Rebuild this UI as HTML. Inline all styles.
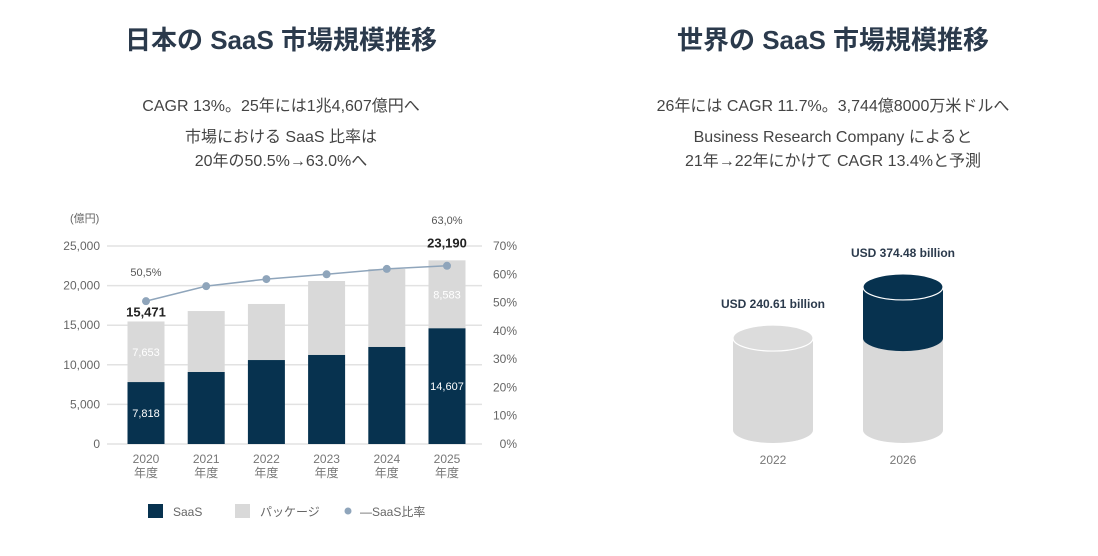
<!DOCTYPE html>
<html><head><meta charset="utf-8">
<style>
body{margin:0;width:1098px;height:551px;background:#fff;font-family:"Liberation Sans","Noto Sans CJK JP",sans-serif;overflow:hidden}
svg text{font-family:"Liberation Sans","Noto Sans CJK JP",sans-serif}
</style></head><body>
<svg id="s" width="1098" height="551">
<text x="281" y="49" text-anchor="middle" font-size="26" font-weight="bold" fill="#2b3a4c">日本の SaaS 市場規模推移</text>
<text x="833" y="49" text-anchor="middle" font-size="26" font-weight="bold" fill="#2b3a4c">世界の SaaS 市場規模推移</text>
<g font-size="16" fill="#444" text-anchor="middle">
<text x="281" y="111">CAGR 13%。25年には1兆4,607億円へ</text>
<text x="281" y="142">市場における SaaS 比率は</text>
<text x="281" y="166">20年の50.5%→63.0%へ</text>
</g>
<g font-size="16" fill="#444" text-anchor="middle">
<text x="833" y="111">26年には CAGR 11.7%。3,744億8000万米ドルへ</text>
<text x="833" y="142">Business Research Company によると</text>
<text x="833" y="166">21年→22年にかけて CAGR 13.4%と予測</text>
</g>
<g id="left"></g>
<g id="right"></g>
</svg>
<script>
const years=["2020","2021","2022","2023","2024","2025"];
const saas=[7818,9090,10600,11240,12250,14607];
const totals=[15471,16790,17680,20580,22100,23190];
const ratio=[50.5,55.8,58.3,60.0,61.9,63.0];
const leftTicks=[0,5000,10000,15000,20000,25000];
const rightTicks=[0,10,20,30,40,50,60,70];
const wYears=["2022","2026"];
const wVals=[240.61,374.48];
const wLabels=["USD 240.61 billion","USD 374.48 billion"];
const NS="http://www.w3.org/2000/svg";
function mk(p,t,a,txt){const e=document.createElementNS(NS,t);for(const k in a)e.setAttribute(k,a[k]);if(txt!=null)e.textContent=txt;p.appendChild(e);return e;}
const L=document.getElementById('left');
const y=v=>444-v*(198/25000);
const yr=p=>444-p*(198/70);
const x=i=>146+i*60.2;
leftTicks.forEach(t=>{
 const g=mk(L,'line',{x1:107,x2:482,y1:y(t),y2:y(t),stroke:'#e2e2e2','stroke-width':1.5});
 
 const tx=mk(L,'text',{x:100,y:y(t)+4,'text-anchor':'end','font-size':12,fill:'#666'},t.toLocaleString('en-US'));
 
});
rightTicks.forEach(t=>{
 const tx=mk(L,'text',{x:517,y:yr(t)+4,'text-anchor':'end','font-size':12,fill:'#666'},t+'%');
 
});
const u=mk(L,'text',{x:70,y:222,'font-size':11,fill:'#666'},'(億円)');

years.forEach((yy,i)=>{
 const b1=mk(L,'rect',{x:x(i)-18.5,y:y(totals[i]),width:37,height:y(saas[i])-y(totals[i]),fill:'#d9d9d9'});
 
 const b2=mk(L,'rect',{x:x(i)-18.5,y:y(saas[i]),width:37,height:444-y(saas[i]),fill:'#07324f'});
 
 const t1=mk(L,'text',{x:x(i),y:463,'text-anchor':'middle','font-size':12,fill:'#777'},yy);
 
 const t2=mk(L,'text',{x:x(i),y:477,'text-anchor':'middle','font-size':12,fill:'#777'},'年度');
 
});
const pts=ratio.map((r,i)=>x(i)+','+yr(r)).join(' ');
const pl=mk(L,'polyline',{points:pts,fill:'none',stroke:'#8fa5bb','stroke-width':1.5});

ratio.forEach((r,i)=>{const c=mk(L,'circle',{cx:x(i),cy:yr(r),r:4,fill:'#8fa5bb'});
 });
const n=ratio.length-1;
const lab=[
 [x(0),y(totals[0])-5,totals[0].toLocaleString('en-US'),'#222','bold','total-label-2020'],
 [x(n),y(totals[n])-13,totals[n].toLocaleString('en-US'),'#222','bold','total-label-2025'],
 [x(0),yr(ratio[0])-25,ratio[0].toFixed(1).replace('.',',')+'%','#555','normal','ratio-label-2020'],
 [x(n),yr(ratio[n])-42,ratio[n].toFixed(1).replace('.',',')+'%','#555','normal','ratio-label-2025'],
 [x(0),(y(totals[0])+y(saas[0]))/2+4,(totals[0]-saas[0]).toLocaleString('en-US'),'#fff','normal','package-label-2020'],
 [x(n),(y(totals[n])+y(saas[n]))/2+4,(totals[n]-saas[n]).toLocaleString('en-US'),'#fff','normal','package-label-2025'],
 [x(0),(444+y(saas[0]))/2+4,saas[0].toLocaleString('en-US'),'#fff','normal','saas-label-2020'],
 [x(n),(444+y(saas[n]))/2+4,saas[n].toLocaleString('en-US'),'#fff','normal','saas-label-2025']];
lab.forEach(a=>{const t=mk(L,'text',{x:a[0],y:a[1],'text-anchor':'middle','font-size':a[4]=='bold'?13:11,'font-weight':a[4],fill:a[3]},a[2]);
 });
// legend
const lg=mk(L,'g',{});
mk(lg,'rect',{x:148,y:504,width:15,height:14,fill:'#07324f'});
mk(lg,'text',{x:173,y:516,'font-size':12,fill:'#666'},'SaaS');
mk(lg,'rect',{x:235,y:504,width:15,height:14,fill:'#d9d9d9'});
mk(lg,'text',{x:260,y:516,'font-size':12,fill:'#666'},'パッケージ');
mk(lg,'circle',{cx:348,cy:511,r:3.5,fill:'#8fa5bb'});
mk(lg,'text',{x:360,y:516,'font-size':12,fill:'#666'},'―SaaS比率');
// world cylinders
const R=document.getElementById('right');
const wx=[773,903],base=430,k=0.382,rx=40,ry=13;
wVals.forEach((v,i)=>{
 const g=mk(R,'g',{});
 const top=base-v*k,cx=wx[i];
 mk(g,'path',{d:`M${cx-rx},${top} L${cx-rx},${base} A${rx},${ry} 0 0 0 ${cx+rx},${base} L${cx+rx},${top} Z`,fill:'#d9d9d9'});
 if(i>0){const prev=base-wVals[0]*k;
  mk(g,'path',{d:`M${cx-rx},${top} L${cx-rx},${prev} A${rx},${ry} 0 0 0 ${cx+rx},${prev} L${cx+rx},${top} Z`,fill:'#07324f'});
  mk(g,'ellipse',{cx:cx,cy:top,rx:rx,ry:ry,fill:'#07324f',stroke:'#fff','stroke-width':1.2});
 } else mk(g,'ellipse',{cx:cx,cy:top,rx:rx,ry:ry,fill:'#dcdcdc',stroke:'#fff','stroke-width':1.2});
 const t=mk(R,'text',{x:cx,y:top-30,'text-anchor':'middle','font-size':12,'font-weight':'bold',fill:'#2b3a4c'},wLabels[i]);
 
 const yt=mk(R,'text',{x:cx,y:464,'text-anchor':'middle','font-size':12,fill:'#777'},wYears[i]);
 
});
</script>
</body></html>
